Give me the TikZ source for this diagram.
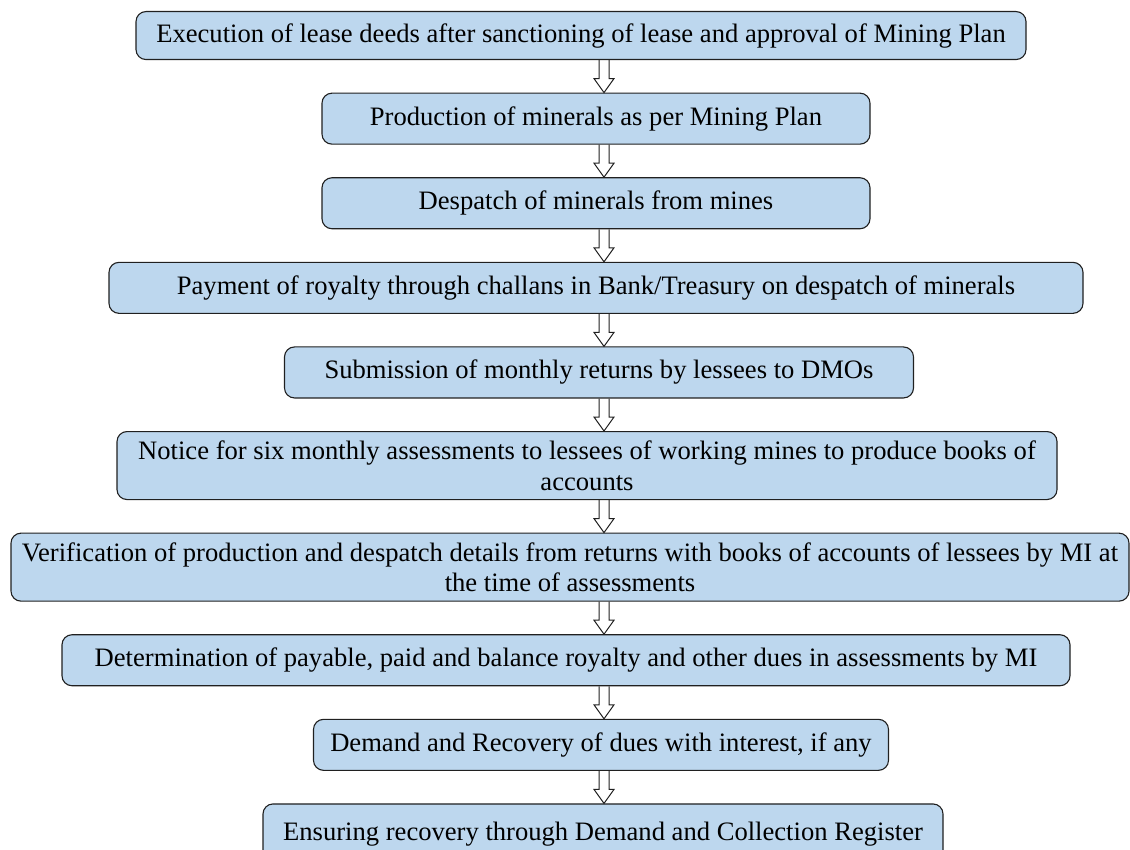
\documentclass[tikz,border=0pt]{standalone}
\usepackage{fontspec}
\setmainfont{Liberation Serif}
\usepackage{tikz}
\usepackage{xcolor}
\usetikzlibrary{positioning,calc}
\definecolor{paleblue}{HTML}{BDD7EE}
\definecolor{edge}{HTML}{202020}

\begin{document}
\begin{tikzpicture}[x=1pt, y=-1pt, node distance=32.5pt,
    every node/.style={font=\fontsize{26.6}{30.5}\selectfont},
    stage/.style={draw=edge, line width=1.1pt, rounded corners=10pt, fill=paleblue, align=center, inner xsep=4pt, minimum height=51pt},
    blockarrow/.style={draw=edge, line width=1pt, to path={($(\tikztostart)+(-5,0)$) -- ($(\tikztotarget)+(-5,-14)$) -- ($(\tikztotarget)+(-10,-14)$) -- (\tikztotarget) -- ($(\tikztotarget)+(10,-14)$) -- ($(\tikztotarget)+(5,-14)$) -- ($(\tikztostart)+(5,0)$)}}]
    \useasboundingbox (0,0) rectangle (1130,850);
    \coordinate (ax) at (604,0);
    \node[stage, anchor=north, minimum width=890pt, minimum height=48pt] (lease) at (581,11) {Execution of lease deeds after sanctioning of lease and approval of Mining Plan};
    \node[stage, below=of lease, xshift=15pt, minimum width=548pt] (production) {Production of minerals as per Mining Plan};
    \node[stage, below=of production, minimum width=548pt] (despatch) {Despatch of minerals from mines};
    \node[stage, below=of despatch, minimum width=974pt] (payment) {Payment of royalty through challans in Bank/Treasury on despatch of minerals};
    \node[stage, below=of payment, xshift=3pt, minimum width=629pt] (returns) {Submission of monthly returns by lessees to DMOs};
    \node[stage, below=of returns, xshift=-12pt, minimum width=940pt, minimum height=68pt] (notice) {Notice for six monthly assessments to lessees of working mines to produce books of\\accounts};
    \node[stage, below=of notice, xshift=-17pt, minimum width=1118pt, minimum height=68pt] (verify) {Verification of production and despatch details from returns with books of accounts of lessees by MI at\\the time of assessments};
    \node[stage, below=of verify, xshift=-4pt, minimum width=1008pt] (determine) {Determination of payable, paid and balance royalty and other dues in assessments by MI};
    \node[stage, below=of determine, xshift=35pt, minimum width=575pt] (demand) {Demand and Recovery of dues with interest, if any};
    \node[stage, below=of demand, xshift=2pt, minimum width=680pt, minimum height=60pt] (register) {Ensuring recovery through Demand and Collection Register};
    \draw[blockarrow] (lease.south -| ax) to (production.north -| ax);
    \draw[blockarrow] (production.south -| ax) to (despatch.north -| ax);
    \draw[blockarrow] (despatch.south -| ax) to (payment.north -| ax);
    \draw[blockarrow] (payment.south -| ax) to (returns.north -| ax);
    \draw[blockarrow] (returns.south -| ax) to (notice.north -| ax);
    \draw[blockarrow] (notice.south -| ax) to (verify.north -| ax);
    \draw[blockarrow] (verify.south -| ax) to (determine.north -| ax);
    \draw[blockarrow] (determine.south -| ax) to (demand.north -| ax);
    \draw[blockarrow] (demand.south -| ax) to (register.north -| ax);
  \end{tikzpicture}
\end{document}
